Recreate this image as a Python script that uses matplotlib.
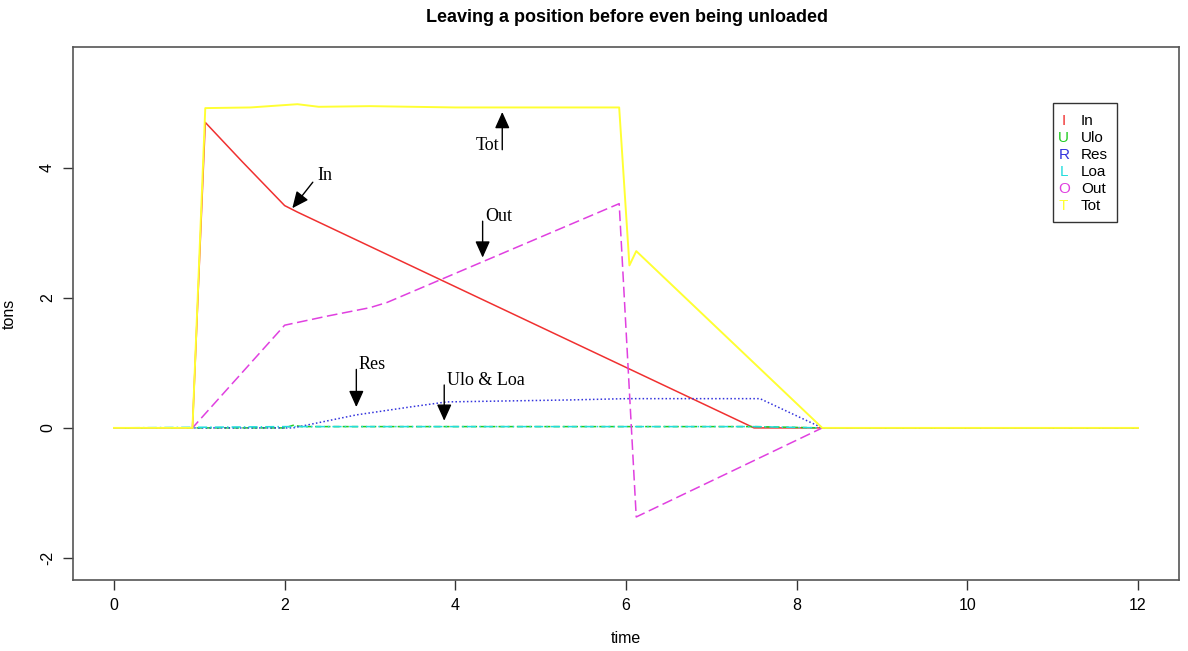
import matplotlib
matplotlib.use("Agg")
import matplotlib.pyplot as plt
from matplotlib.patches import Rectangle

# ---- data ----
tot_t = [0, 0.92, 1.07, 1.6, 2.15, 2.4, 3.0, 4.0, 5.0, 5.92, 6.04, 6.12, 8.3, 12]
tot_v = [0, 0, 4.92, 4.93, 4.98, 4.94, 4.95, 4.93, 4.93, 4.93, 2.5, 2.72, 0.0, 0.0]

in_t = [0, 0.92, 1.07, 1.5, 2.0, 2.15, 7.5, 12]
in_v = [0, 0, 4.7, 4.1, 3.42, 3.32, 0.0, 0.0]

out_t = [0, 0.92, 2.0, 2.5, 3.0, 3.2, 5.92, 6.12, 8.3, 12]
out_v = [0, 0, 1.58, 1.72, 1.85, 1.93, 3.45, -1.37, 0.0, 0.0]

res_t = [0, 2.1, 2.84, 3.46, 3.9, 5.34, 6.0, 7.57, 8.3, 12]
res_v = [0, 0, 0.2, 0.32, 0.4, 0.43, 0.45, 0.45, 0.0, 0.0]

ulo_t = [0, 2.0, 2.1, 2.2, 7.5, 8.3, 12]
ulo_v = [0, 0.0, 0.04, 0.02, 0.02, 0.0, 0.0]

loa_t = [0, 2.0, 7.5, 8.3, 12]
loa_v = [0, 0.02, 0.02, 0.0, 0.0]

legend_letters = ["I", "U", "R", "L", "O", "T"]
legend_labels = ["In", "Ulo", "Res", "Loa", "Out", "Tot"]
legend_colors = ["#F03030", "#22CC22", "#3333DD", "#22DDDD", "#E040E0", "#FFFF33"]

xticks = [0, 2, 4, 6, 8, 10, 12]
yticks = [-2, 0, 2, 4]

plt.rcParams['font.family'] = ['Liberation Sans', 'DejaVu Sans']

fig = plt.figure(figsize=(11.88, 6.51), dpi=100)
ax = fig.add_axes([73/1188, 1 - 580/651, (1179-73)/1188, (580-47)/651])

lw = 1.1
ax.plot(in_t, in_v, color=legend_colors[0], lw=lw, ls='-')
ax.plot(ulo_t, ulo_v, color=legend_colors[1], lw=lw, ls=(0, (4, 2)))
ax.plot(res_t, res_v, color=legend_colors[2], lw=lw, ls=(0, (1, 1.5)))
ax.plot(loa_t, loa_v, color=legend_colors[3], lw=lw, ls=(0, (6, 2, 1, 2)))
ax.plot(out_t, out_v, color=legend_colors[4], lw=lw, ls=(0, (7, 3)))
ax.plot(tot_t, tot_v, color=legend_colors[5], lw=1.4, ls='-')

ax.set_xlim(-0.48, 12.48)
ax.set_ylim(-2.34, 5.86)
ax.set_xticks(xticks)
ax.set_yticks(yticks)
ax.set_xticklabels([str(v) for v in xticks], fontsize=11.5)
ax.set_yticklabels([str(v) for v in yticks], fontsize=11.5, rotation=90, va='center')
ax.tick_params(direction='out', length=7, width=1, color='#333333', pad=6)
for s in ax.spines.values():
    s.set_color('#555555')
    s.set_linewidth(1.2)

fig.text(627/1188, 1 - 18/651, "Leaving a position before even being unloaded",
         ha='center', va='center', fontsize=13, fontweight='bold')
ax.set_xlabel("time", fontsize=11.5, labelpad=13)
ax.set_ylabel("tons", fontsize=11.5, labelpad=17)

# ---- annotations ----
serif = dict(family=['Liberation Serif', 'DejaVu Serif'], fontsize=13)
aprops = dict(arrowstyle='-|>,head_length=1.0,head_width=0.45', color='black', lw=1.0,
              shrinkA=0, shrinkB=0)
ax.annotate("", xy=(4.55, 4.86), xytext=(4.55, 4.28), arrowprops=aprops)
ax.text(4.52, 4.34, "Tot", ha='right', va='center', **serif)
ax.annotate("", xy=(2.09, 3.38), xytext=(2.33, 3.78), arrowprops=aprops)
ax.text(2.38, 3.88, "In", ha='left', va='center', **serif)
ax.annotate("", xy=(4.32, 2.62), xytext=(4.32, 3.18), arrowprops=aprops)
ax.text(4.35, 3.25, "Out", ha='left', va='center', **serif)
ax.annotate("", xy=(2.84, 0.32), xytext=(2.84, 0.9), arrowprops=aprops)
ax.text(2.87, 0.97, "Res", ha='left', va='center', **serif)
ax.annotate("", xy=(3.87, 0.11), xytext=(3.87, 0.66), arrowprops=aprops)
ax.text(3.9, 0.73, "Ulo & Loa", ha='left', va='center', **serif)

# ---- legend (R style with letters) ----
ax.add_patch(Rectangle((11.0, 3.17), 0.75, 1.83, fill=False, edgecolor='#333333', lw=1.0))
for i, (ltr, lab, col) in enumerate(zip(legend_letters, legend_labels, legend_colors)):
    yy = 4.72 - i * 0.262
    ax.text(11.13, yy, ltr, color=col, ha='center', va='center', fontsize=11)
    ax.text(11.33, yy, lab, color='black', ha='left', va='center', fontsize=11)

fig.savefig("out.png", dpi=100)
